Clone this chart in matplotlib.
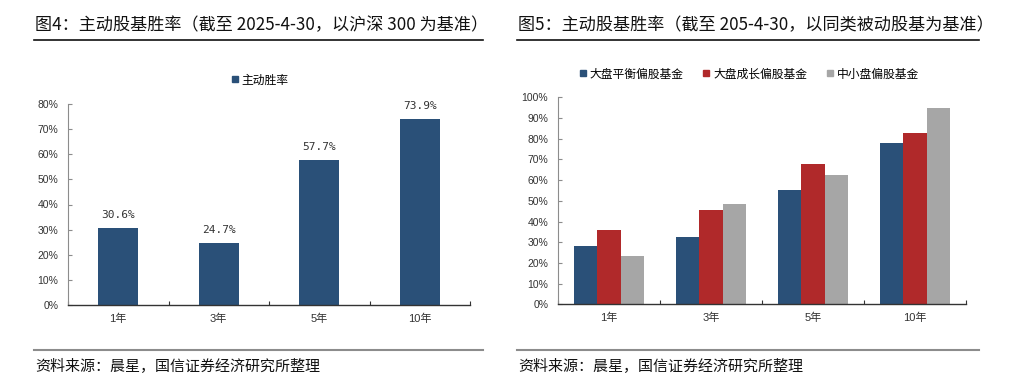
import matplotlib
matplotlib.use('Agg')
from matplotlib import pyplot as plt
from matplotlib.lines import Line2D
from matplotlib.ticker import FixedLocator, FuncFormatter
import numpy as np

plt.rcParams['font.family'] = ['Liberation Sans', 'Noto Sans CJK SC']
CJK = ['Noto Sans CJK SC', 'DejaVu Sans']

# data
periods = ['1年', '3年', '5年', '10年']
active_win = [30.6, 24.7, 57.7, 73.9]

style_names = ['大盘平衡偏股基金', '大盘成长偏股基金', '中小盘偏股基金']
large_balance = [28.0, 32.5, 55.3, 78.2]
large_growth = [36.0, 45.6, 67.6, 82.8]
small_mid = [23.3, 48.3, 62.3, 94.8]

titles = ['图4：主动股基胜率（截至 2025-4-30，以沪深 300 为基准）',
          '图5：主动股基胜率（截至 205-4-30，以同类被动股基为基准）']
source = '资料来源：晨星，国信证券经济研究所整理'

blue = '#2A5078'
red = '#B0292A'
gray = '#A6A6A6'

W, H = 1010, 392
fig = plt.figure(figsize=(W / 100, H / 100), dpi=100)


def px_axes(x0, y_top, x1, y_bot):
    return fig.add_axes([x0 / W, 1 - y_bot / H, (x1 - x0) / W, (y_bot - y_top) / H])


def hline(x0, x1, y, color, lw):
    fig.add_artist(Line2D([x0 / W, x1 / W], [1 - y / H, 1 - y / H],
                          transform=fig.transFigure, color=color, lw=lw))


def style_axes(ax, ymax):
    ax.set_xlim(-0.5, 3.5)
    ax.set_ylim(0, ymax)
    for s in ['top', 'right']:
        ax.spines[s].set_visible(False)
    ax.spines['left'].set_color('#8C8C8C')
    ax.spines['left'].set_linewidth(0.8)
    ax.spines['bottom'].set_color('#333333')
    ax.spines['bottom'].set_linewidth(1.0)
    ax.yaxis.set_major_locator(FixedLocator(np.arange(0, ymax + 0.01, 10)))
    ax.yaxis.set_major_formatter(FuncFormatter(lambda v, p: '%d%%' % round(v)))
    ax.tick_params(axis='y', direction='in', length=3, color='#8C8C8C',
                   labelsize=7.5, pad=7, labelcolor='#333333')
    ax.xaxis.set_major_locator(FixedLocator([-0.5, 0.5, 1.5, 2.5, 3.5]))
    ax.xaxis.set_major_formatter(FuncFormatter(lambda v, p: ''))
    ax.xaxis.set_minor_locator(FixedLocator(range(len(periods))))
    ax.set_xticklabels(periods, minor=True)
    ax.tick_params(axis='x', which='major', direction='in', length=3, color='#333333')
    ax.tick_params(axis='x', which='minor', length=0, labelsize=8, pad=6,
                   labelcolor='#333333')


# left panel
ax1 = px_axes(68, 104, 470, 305)
x = np.arange(len(periods))
ax1.bar(x, active_win, width=0.4, color=blue)
for xi, v in zip(x, active_win):
    ax1.annotate('%.1f%%' % v, (xi, v), xytext=(0, 9.5), textcoords='offset points',
                 ha='center', va='center', fontsize=8, color='#333333',
                 family='DejaVu Sans Mono')
style_axes(ax1, 80)
h1 = [Line2D([], [], marker='s', ls='', color=blue, markersize=4.5)]
fig.legend(h1, ['主动胜率'], loc='center', bbox_to_anchor=(260 / W, 1 - 80 / H),
           frameon=False, prop={'family': CJK, 'size': 8.5},
           handlelength=0.6, handletextpad=0.3)

# right panel
ax2 = px_axes(558, 97.4, 966, 304.3)
bw = 0.228
for i, (vals, c) in enumerate(zip([large_balance, large_growth, small_mid],
                                  [blue, red, gray])):
    ax2.bar(x + (i - 1) * bw, vals, width=bw, color=c)
style_axes(ax2, 100)
h2 = [Line2D([], [], marker='s', ls='', color=c, markersize=4.5)
      for c in [blue, red, gray]]
fig.legend(h2, style_names, loc='center', bbox_to_anchor=(749 / W, 1 - 74 / H),
           ncol=3, frameon=False, prop={'family': CJK, 'size': 8.5},
           handlelength=0.6, handletextpad=0.3, columnspacing=1.6)

# titles, rules and sources
for x0, x1, t in [(34, 483, titles[0]), (517, 979, titles[1])]:
    fig.text(x0 / W + 1 / W, 1 - 25 / H, t, family=CJK, fontsize=12.3,
             weight='medium', ha='left', va='center', color='#111111')
    hline(x0, x1, 40, '#111111', 1.2)
    hline(x0, x1, 350, '#8C8C8C', 1.5)
    fig.text(x0 / W + 1 / W, 1 - 367 / H, source, family=CJK, fontsize=10.8,
             ha='left', va='center', color='#111111')

fig.savefig('out.png', dpi=100)
